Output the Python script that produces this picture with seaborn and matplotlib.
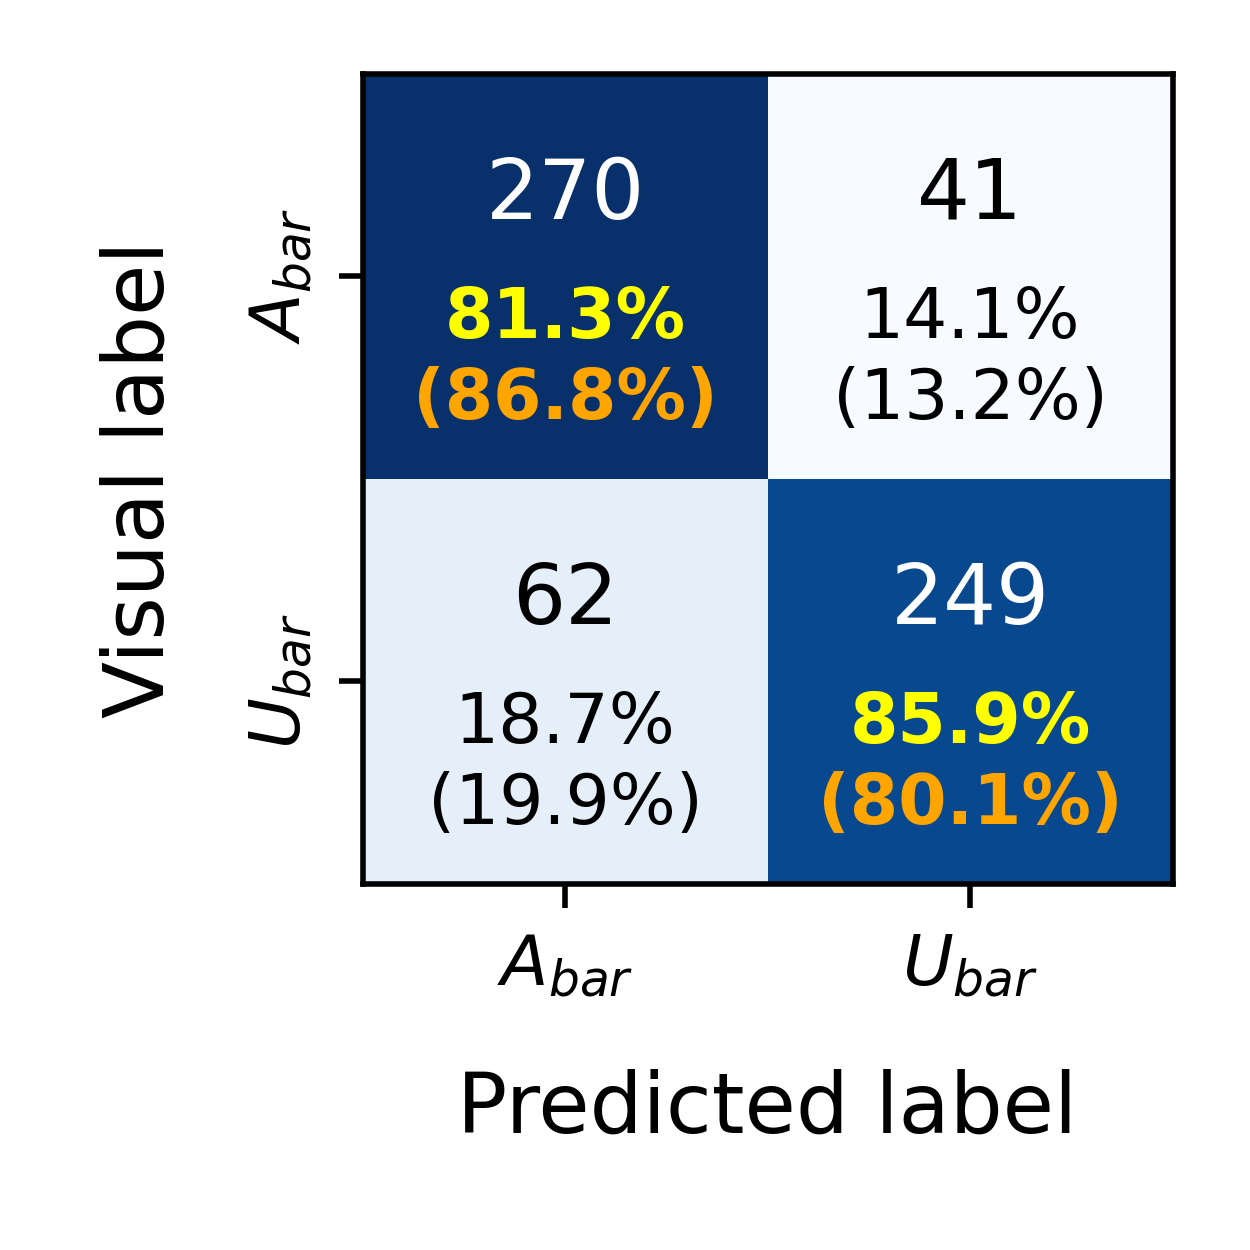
import numpy as np
import pandas as pd
import matplotlib
matplotlib.use("Agg")
import matplotlib.pyplot as plt
import seaborn as sns

classes = ["$A_{bar}$", "$U_{bar}$"]
counts = [[270, 41], [62, 249]]
row_pct = [["81.3%", "14.1%"], ["18.7%", "85.9%"]]
alt_pct = [["(86.8%)", "(13.2%)"], ["(19.9%)", "(80.1%)"]]

sns.set_style("white")
plt.rcParams['font.family'] = ['DejaVu Sans']
plt.rcParams['text.color'] = 'black'
plt.rcParams['axes.labelcolor'] = 'black'
plt.rcParams['xtick.color'] = 'black'
plt.rcParams['ytick.color'] = 'black'

fig = plt.figure(figsize=(2.5, 2.5), dpi=500)
ax = fig.add_axes([0.29, 0.293, 0.648, 0.648])
df = pd.DataFrame(counts, index=classes, columns=classes)
sns.heatmap(df, ax=ax, cmap="Blues", cbar=False, annot=False,
            vmin=np.min(counts), vmax=np.max(counts))
thr = (np.max(counts) + np.min(counts)) / 2
for i in range(2):
    for j in range(2):
        v = counts[i][j]
        dark = v > thr
        ax.text(j + 0.5, i + 0.3, str(v), ha='center', va='center',
                fontsize=12, color='white' if dark else 'black')
        if i == j:
            ax.text(j + 0.5, i + 0.605, row_pct[i][j], ha='center', va='center',
                    fontsize=10, color='yellow', fontweight='bold')
            ax.text(j + 0.5, i + 0.805, alt_pct[i][j], ha='center', va='center',
                    fontsize=10, color='orange', fontweight='bold')
        else:
            ax.text(j + 0.5, i + 0.605, row_pct[i][j], ha='center', va='center',
                    fontsize=10, color='black')
            ax.text(j + 0.5, i + 0.805, alt_pct[i][j], ha='center', va='center',
                    fontsize=10, color='black')

for s in ax.spines.values():
    s.set_visible(True)
    s.set_color('black')
    s.set_linewidth(0.8)
ax.tick_params(axis='both', which='both', length=3.5, width=0.8, color='black',
               labelcolor='black', labelsize=10, bottom=True, left=True, pad=3.5)
ax.set_yticklabels(classes, rotation=90, va='center')
ax.set_xticklabels(classes, rotation=0)
ax.set_xlabel("Predicted label", fontsize=12, labelpad=10)
ax.set_ylabel("Visual label", fontsize=12, labelpad=9.5)
fig.savefig("out.png", dpi=500)
